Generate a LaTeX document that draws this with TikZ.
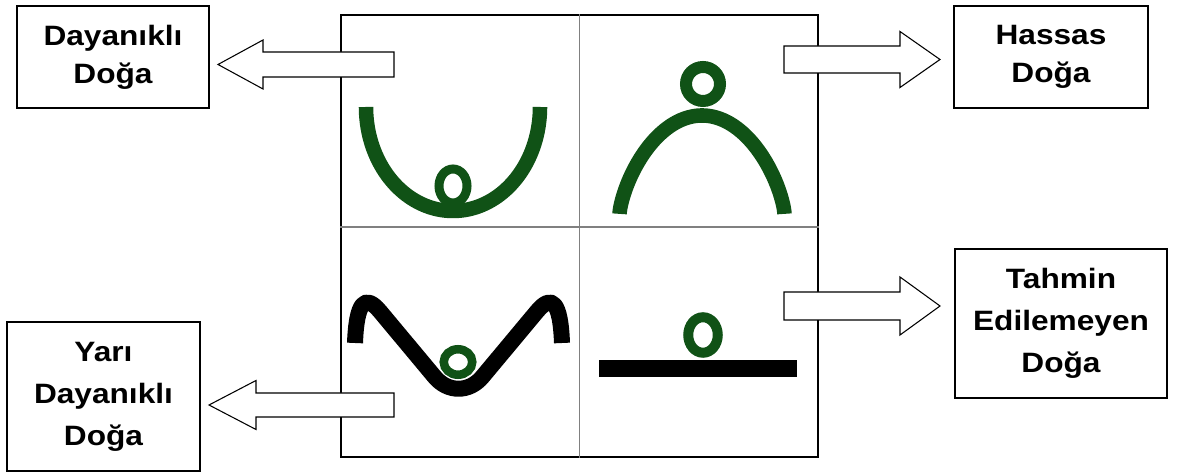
\documentclass[tikz,border=0pt]{standalone}
\usepackage{fontspec}
\setmainfont{Liberation Sans}[FakeStretch=1.13]
\usepackage{tikz}

\definecolor{koyuyesil}{RGB}{16,82,22}

\begin{document}
\begin{tikzpicture}[
    x=0.75pt,
    y=0.75pt,
    kutu/.style={draw, line width=1.2pt, align=center, inner sep=0pt,
        font=\fontsize{21}{28.5}\selectfont\bfseries},
    uzunkutu/.style={kutu, font=\fontsize{21}{31.5}\selectfont\bfseries},
    blok/.style={draw, fill=white, line width=0.8pt, line join=miter},
    yesil/.style={draw=koyuyesil, line width=#1},
    ince/.style={draw=gray, line width=0.8pt}
]
\useasboundingbox (0,0) rectangle (1180,473);

% Çerçeve
\node[draw, line width=1.6pt, minimum width=357.75pt, minimum height=331.5pt] (cerceve) at (579.5,237) {};
\coordinate (orta) at (579.5,246);
\draw[ince] (cerceve.north) -- (cerceve.south);
\draw[ince] (cerceve.west |- orta) -- (cerceve.east |- orta);

% Sol üst: çukur
\draw[yesil=10.9pt] plot[domain=0:180, samples=80] ({453+87*cos(\x)},{366-104*sin(\x)});
\draw[yesil=6.75pt] (453,287) ellipse [x radius=14, y radius=17];

% Sağ üst: tepe
\draw[yesil=10.9pt] plot[domain=0.5:179.5, samples=90] ({702-82.5*cos(\x)},{259+98.5*pow(sin(\x),1.4)});
\draw[yesil=9pt] (703,389) circle [radius=17];

% Sol alt: dalga
\draw[line width=12pt, line join=round]
    (355,130) .. controls (356.5,170) and (364.6,180.1) .. (380,161.6)
    -- (434.4,96.4) .. controls (447.7,80.2) and (469.3,80.2) .. (482.6,96.4)
    -- (537,161.6) .. controls (552.4,180.1) and (560.5,170) .. (562,130);
\draw[yesil=6.4pt] (458,111) ellipse [x radius=14.25, y radius=12.75];

% Sağ alt: düzlem
\fill (599,96) rectangle (797,113);
\draw[yesil=7.5pt] (703,138) ellipse [x radius=14.75, y radius=17.75];

% Kutular
\node[kutu, minimum width=144pt, minimum height=76.5pt] (dayanikli) at (113,416) {Dayanıklı\\Doğa};
\node[kutu, minimum width=145.5pt, minimum height=76.5pt] (hassas) at (1051,416) {Hassas\\Doğa};
\node[uzunkutu, minimum width=144.75pt, minimum height=111.75pt] (yari) at (103.5,76.5) {Yarı\\Dayanıklı\\Doğa};
\node[uzunkutu, minimum width=159pt, minimum height=111.75pt] (tahmin) at (1061,149.5) {Tahmin\\Edilemeyen\\Doğa};

% Oklar
\coordinate (k1) at (394,408.5);
\coordinate (k2) at (784,413.5);
\coordinate (k3) at (394,68);
\coordinate (k4) at (784,167);

\draw[blok] (k1) ++(0,12.5) -- ++(-131,0) -- ++(0,12) -- ++(-45,-24.5) -- ++(45,-24.5) -- ++(0,12) -- ++(131,0) -- cycle;
\draw[blok] (k2) ++(0,-13.5) -- ++(116,0) -- ++(0,-14.5) -- ++(40,28) -- ++(-40,28) -- ++(0,-14.5) -- ++(-116,0) -- cycle;
\draw[blok] (k3) ++(0,12) -- ++(-138,0) -- ++(0,12.5) -- ++(-47,-24.5) -- ++(47,-24.5) -- ++(0,12.5) -- ++(138,0) -- cycle;
\draw[blok] (k4) ++(0,-14) -- ++(116,0) -- ++(0,-15) -- ++(40,29) -- ++(-40,29) -- ++(0,-15) -- ++(-116,0) -- cycle;

\end{tikzpicture}
\end{document}
